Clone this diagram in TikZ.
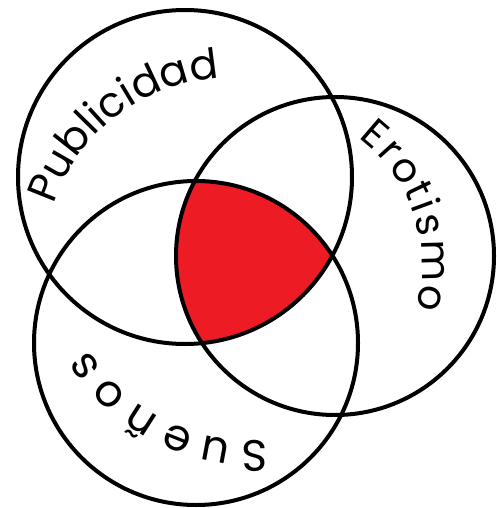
\documentclass[tikz,border=0pt]{standalone}
\usepackage{fontspec}
\newfontfamily\handfont{Poppins}
\usetikzlibrary{decorations.text}
\definecolor{vennred}{RGB}{237,28,36}
\begin{document}
\begin{tikzpicture}[x=1pt,y=1pt,
  ring/.style={line width=4pt, draw=black},
  arclabel/.style={decorate, decoration={text along path, text align={fit to path}, text={#1}}}]
\useasboundingbox (0,0) rectangle (496,-508);
\fill[white] (0,0) rectangle (496,-508);
\coordinate (cA) at (185,-177);
\coordinate (cB) at (335,-256);
\coordinate (cC) at (196,-343);
% common region
\begin{scope}
  \clip (cA) circle[radius=167];
  \clip (cB) circle[radius=159];
  \fill[vennred] (cC) circle[radius=162];
\end{scope}
% circles
\draw[ring] (cA) circle[radius=167];
\draw[ring] (cB) circle[radius=159];
\draw[ring] (cC) circle[radius=162];
% labels
\coordinate (tA) at (229,-262);
\coordinate (tB) at (263,-265);
\coordinate (tC) at (254,-244);
\path[arclabel={|\handfont\fontsize{42}{44}\selectfont|Publicidad}]
  (tA) ++(162:184) arc[start angle=162, end angle=93, radius=184];
\path[arclabel={|\handfont\fontsize{40}{44}\selectfont|Erotismo}]
  (tB) ++(53:159) arc[start angle=53, end angle=-16, radius=159];
\path[arclabel={|\handfont\fontsize{44}{48}\selectfont|Sueños}]
  (tC) ++(-86:197) arc[start angle=-86, end angle=-147.5, radius=197];
\end{tikzpicture}
\end{document}
